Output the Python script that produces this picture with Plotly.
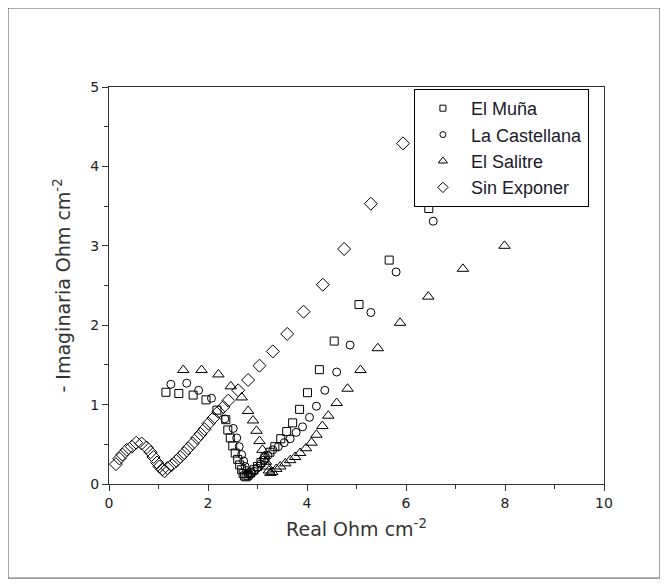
import plotly.graph_objects as go

# ---- Data ----
muna_x = [1.15, 1.41, 1.70, 1.96, 2.18, 2.36, 2.40, 2.45, 2.50, 2.55, 2.60, 2.64, 2.68, 2.71, 2.74, 2.77,
          2.81, 2.86, 2.93, 3.00, 3.07, 3.15, 3.25, 3.35, 3.47, 3.59, 3.71, 3.85, 4.01, 4.25, 4.55, 5.05, 5.66, 6.46]
muna_y = [1.155, 1.14, 1.12, 1.06, 0.93, 0.81, 0.68, 0.58, 0.48, 0.39, 0.31, 0.24, 0.18, 0.13, 0.10, 0.09,
          0.11, 0.14, 0.18, 0.22, 0.27, 0.33, 0.40, 0.47, 0.57, 0.66, 0.77, 0.94, 1.15, 1.44, 1.80, 2.26, 2.82, 3.47]

cast_x = [1.25, 1.57, 1.81, 2.07, 2.34, 2.51, 2.58, 2.63, 2.68, 2.72, 2.75, 2.78, 2.81, 2.84,
          2.88, 2.93, 2.99, 3.06, 3.13, 3.21, 3.31, 3.42, 3.54, 3.66, 3.78, 3.91, 4.05, 4.19, 4.36, 4.60, 4.87, 5.29, 5.80, 6.55]
cast_y = [1.255, 1.27, 1.18, 1.08, 0.82, 0.70, 0.58, 0.47, 0.37, 0.29, 0.22, 0.17, 0.13, 0.12,
          0.13, 0.16, 0.20, 0.25, 0.30, 0.36, 0.43, 0.47, 0.52, 0.57, 0.65, 0.72, 0.84, 0.98, 1.18, 1.41, 1.75, 2.16, 2.67, 3.31]

sal_x = [1.50, 1.87, 2.21, 2.46, 2.68, 2.81, 2.91, 2.98, 3.04, 3.10, 3.14, 3.17, 3.20, 3.23, 3.26,
         3.30, 3.38, 3.46, 3.56, 3.66, 3.76, 3.86, 3.98, 4.09, 4.19, 4.31, 4.43, 4.60, 4.82, 5.08, 5.43, 5.88, 6.45, 7.15, 7.99]
sal_y = [1.435, 1.435, 1.38, 1.23, 1.09, 0.92, 0.80, 0.67, 0.54, 0.43, 0.35, 0.28, 0.22, 0.17, 0.14,
         0.15, 0.19, 0.22, 0.26, 0.30, 0.34, 0.39, 0.45, 0.52, 0.62, 0.73, 0.86, 1.02, 1.20, 1.435, 1.71, 2.03, 2.36, 2.71, 3.00]

sin_x = [0.14, 0.21, 0.27, 0.36, 0.46, 0.55, 0.66, 0.76, 0.84, 0.90, 0.97, 1.02, 1.08, 1.12,
         1.18, 1.27, 1.36, 1.44, 1.52, 1.60, 1.69, 1.78, 1.85, 1.93, 2.01, 2.11, 2.21, 2.31, 2.41,
         2.61, 2.81, 3.04, 3.31, 3.60, 3.93, 4.32, 4.75, 5.29, 5.94]
sin_y = [0.25, 0.32, 0.37, 0.43, 0.47, 0.52, 0.51, 0.46, 0.40, 0.34, 0.27, 0.22, 0.185, 0.16,
         0.20, 0.24, 0.29, 0.34, 0.39, 0.45, 0.51, 0.58, 0.63, 0.69, 0.76, 0.83, 0.91, 0.97, 1.05,
         1.18, 1.31, 1.49, 1.67, 1.89, 2.17, 2.51, 2.96, 3.53, 4.29]

names = ["El Muña", "La Castellana", "El Salitre", "Sin Exponer"]
symbols = ["square-open", "circle-open", "triangle-up-open", "diamond-open"]
sizes = [8, 8, 10, 10]
legend_sizes = [6, 6, 8, 8]

series = [(muna_x, muna_y), (cast_x, cast_y), (sal_x, sal_y), (sin_x, sin_y)]

fig = go.Figure()
for (xs, ys), nm, sym, sz in zip(series, names, symbols, sizes):
    fig.add_trace(go.Scatter(x=xs, y=ys, mode="markers", name=nm, showlegend=False,
                             marker=dict(symbol=sym, size=sz, color="black",
                                         line=dict(color="black", width=1))))
# legend entries with smaller symbols
for i, (nm, sym, lsz) in enumerate(zip(names, symbols, legend_sizes)):
    fig.add_trace(go.Scatter(x=[None], y=[None], mode="markers", name=nm,
                             marker=dict(symbol=sym, size=lsz, color="black",
                                         line=dict(color="black", width=1))))

axis_font = dict(family="DejaVu Sans", size=14, color="#222222")
title_font = dict(family="DejaVu Sans", size=19, color="#333333")

fig.update_xaxes(range=[0, 10], dtick=2, tick0=0, ticks="outside", ticklen=6, tickwidth=1,
                 tickcolor="#333", showline=True, linecolor="#333", linewidth=1, mirror=True,
                 showgrid=False, zeroline=False, tickfont=axis_font,
                 minor=dict(dtick=1, ticks="outside", ticklen=4, tickcolor="#333", showgrid=False),
                 title=dict(text="Real Ohm cm<sup>-2</sup>", font=title_font, standoff=12))
fig.update_yaxes(range=[0, 5], dtick=1, tick0=0, ticks="outside", ticklen=6, tickwidth=1,
                 tickcolor="#333", showline=True, linecolor="#333", linewidth=1, mirror=True,
                 showgrid=False, zeroline=False, tickfont=axis_font,
                 minor=dict(dtick=0.5, ticks="outside", ticklen=4, tickcolor="#333", showgrid=False),
                 title=dict(text="- Imaginaria Ohm cm<sup>-2</sup>", font=title_font, standoff=14))

fig.update_layout(
    width=668, height=586,
    margin=dict(l=101, r=72, t=79, b=110),
    paper_bgcolor="white", plot_bgcolor="white",
    legend=dict(x=0.616, y=0.995, xanchor="left", yanchor="top",
                bordercolor="black", borderwidth=1, bgcolor="white",
                font=dict(family="Liberation Sans", size=18, color="#1a1a2a"),
                itemwidth=46),
    shapes=[dict(type="rect", xref="paper", yref="paper", x0=-0.204, x1=1.113, y0=-0.237, y1=1.199,
                 line=dict(color="#555", width=1), fillcolor="rgba(0,0,0,0)", layer="below")],
)

fig.write_html("out.html")
